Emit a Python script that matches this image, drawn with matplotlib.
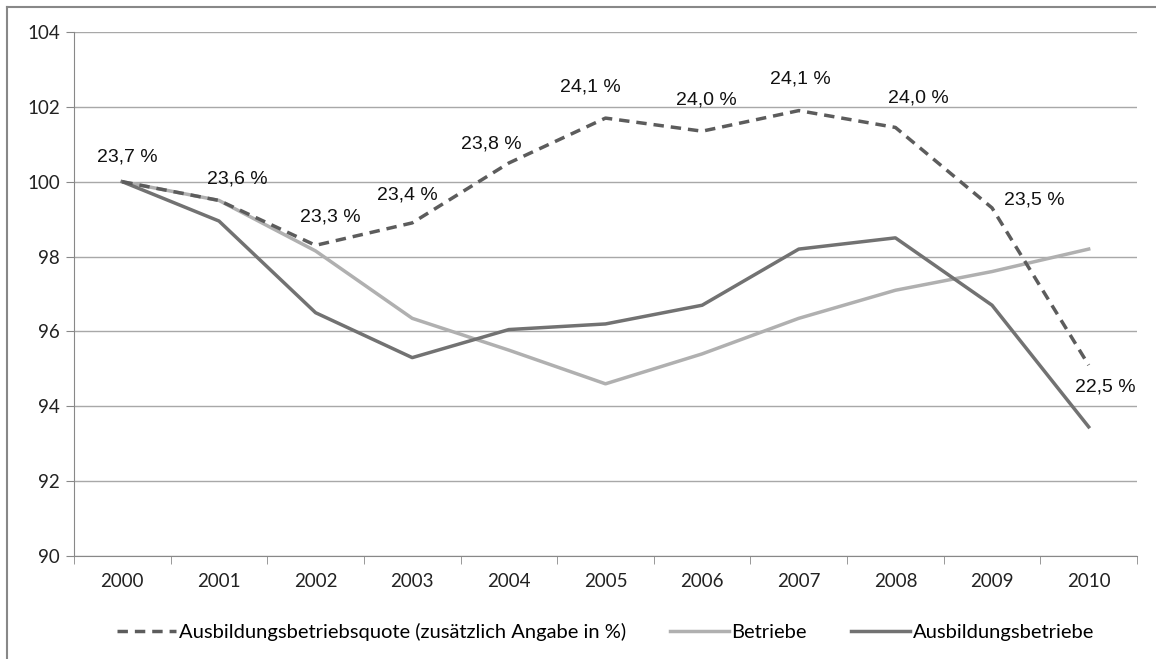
import matplotlib.pyplot as plt
import numpy as np

years = ["2000", "2001", "2002", "2003", "2004", "2005", "2006", "2007", "2008", "2009", "2010"]
quote_index = [100.0, 99.5, 98.3, 98.9, 100.5, 101.7, 101.35, 101.9, 101.45, 99.3, 95.1]
betriebe = [100.0, 99.5, 98.15, 96.35, 95.5, 94.6, 95.4, 96.35, 97.1, 97.6, 98.2]
ausb_betriebe = [100.0, 98.95, 96.5, 95.3, 96.05, 96.2, 96.7, 98.2, 98.5, 96.7, 93.45]
quote_labels = ["23,7 %", "23,6 %", "23,3 %", "23,4 %", "23,8 %", "24,1 %",
                "24,0 %", "24,1 %", "24,0 %", "23,5 %", "22,5 %"]

# label offsets in pixels (dx, dy up)
offsets = [(5, 25), (18, 21), (15, 28), (-5, 28), (-18, 19), (-15, 31),
           (4, 31), (2, 32), (23, 29), (42, 8), (17, -22)]

fig = plt.figure(figsize=(11.56, 6.59), dpi=100)
ax = fig.add_axes([74 / 1156, 1 - 556 / 659, (1137 - 74) / 1156, (556 - 32) / 659])

x = np.arange(len(years))
ax.plot(x, betriebe, color="#b0b0b0", lw=2.5, label="Betriebe", zorder=3)
ax.plot(x, ausb_betriebe, color="#727272", lw=2.5, label="Ausbildungsbetriebe", zorder=3)
ax.plot(x, quote_index, color="#5c5c5c", lw=2.5, ls=(0, (3, 2)),
        label="Ausbildungsbetriebsquote (zusätzlich Angabe in %)", zorder=4)

for xi, yi, lab, (dx, dy) in zip(x, quote_index, quote_labels, offsets):
    ax.annotate(lab, (xi, yi), xytext=(dx * 0.72, dy * 0.72), textcoords="offset points",
                ha="center", va="center", fontsize=14, family="Liberation Sans", color="#111111",
                zorder=5)

ax.set_xlim(-0.5, len(years) - 0.5)
ax.set_ylim(90, 104)
ax.set_yticks(np.arange(90, 105, 2))
ax.set_xticks(x)
ax.set_xticklabels(years)
ax.set_xticks(np.arange(-0.5, len(years), 1), minor=True)
ax.tick_params(axis="x", which="major", length=0, pad=12)
ax.tick_params(axis="x", which="minor", length=6, color="#888888")
ax.tick_params(axis="y", length=6, color="#888888", pad=4)
for lab in ax.get_xticklabels() + ax.get_yticklabels():
    lab.set_family("Lato")
    lab.set_fontsize(13.5)
    lab.set_color("#222222")

ax.grid(axis="y", color="#a8a8a8", lw=1)
ax.set_axisbelow(True)
for s in ["top", "right"]:
    ax.spines[s].set_visible(False)
for s in ["left", "bottom"]:
    ax.spines[s].set_color("#888888")

h, l = ax.get_legend_handles_labels()
order = [2, 0, 1]
fig.legend([h[i] for i in order], [l[i] for i in order], loc="center",
           bbox_to_anchor=(0.524, 1 - 632 / 659), ncol=3, frameon=False,
           prop={"family": "Lato", "size": 14.5}, handlelength=2.9, columnspacing=2.2,
           handletextpad=0.15)

# outer frame on left and top
fig.add_artist(plt.Line2D([7 / 1156, 7 / 1156], [0, 1 - 7 / 659], color="#888888", lw=1.5))
fig.add_artist(plt.Line2D([7 / 1156, 1], [1 - 7 / 659, 1 - 7 / 659], color="#888888", lw=1.5))

fig.savefig("out.png", dpi=100)
